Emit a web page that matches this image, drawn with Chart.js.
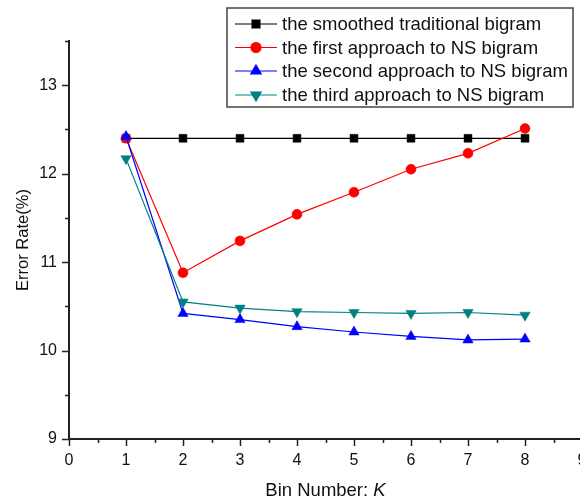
<!DOCTYPE html>
<html>
<head>
<meta charset="utf-8">
<script src="https://cdn.jsdelivr.net/npm/chart.js@4/dist/chart.umd.min.js"></script>
<style>
  html, body { margin: 0; padding: 0; background: #fff; overflow: hidden; }
  #wrap { width: 600px; height: 499px; }
</style>
</head>
<body>
<div id="wrap"><canvas id="c" width="600" height="499"></canvas></div>
<script>
// data
const binNumbers = [1, 2, 3, 4, 5, 6, 7, 8]
const smoothedTraditional = [12.4, 12.4, 12.4, 12.4, 12.4, 12.4, 12.4, 12.4]
const firstApproach = [12.4, 10.88, 11.24, 11.54, 11.79, 12.05, 12.23, 12.51]
const secondApproach = [12.42, 10.42, 10.35, 10.27, 10.21, 10.16, 10.12, 10.13]
const thirdApproach = [12.17, 10.55, 10.48, 10.44, 10.43, 10.42, 10.43, 10.40]
const seriesNames = [
  'the smoothed traditional bigram',
  'the first approach to NS bigram',
  'the second approach to NS bigram',
  'the third approach to NS bigram'
]
const xTicks = [0, 1, 2, 3, 4, 5, 6, 7, 8, 9]
const yTicks = [9, 10, 11, 12, 13]

const FONT = "'Liberation Sans', Arial, sans-serif"
const AXIS = '#222'

const pts = vals => binNumbers.map((k, i) => ({ x: k, y: vals[i] }))

const styles = [
  { color: '#000000', pointStyle: 'rect', radius: 5.6, rotation: 0, order: 4 },
  { color: '#ff0000', pointStyle: 'circle', radius: 5, rotation: 0, order: 3 },
  { color: '#0000ff', pointStyle: 'triangle', radius: 6, rotation: 0, order: 2 },
  { color: '#008080', pointStyle: 'triangle', radius: 6, rotation: 180, order: 1 }
]
const values = [smoothedTraditional, firstApproach, secondApproach, thirdApproach]

const datasets = values.map((v, i) => ({
  label: seriesNames[i],
  data: pts(v),
  borderColor: styles[i].color,
  backgroundColor: styles[i].color,
  borderWidth: 1.2,
  pointStyle: styles[i].pointStyle,
  pointRadius: styles[i].radius,
  pointRotation: styles[i].rotation,
  pointBorderWidth: 0.5,
  order: styles[i].order,
  tension: 0
}))

const decorations = {
  id: 'decorations',
  afterDraw (chart) {
    const { ctx, chartArea: a, scales: { x, y } } = chart
    ctx.save()
    // tick marks, major and minor
    ctx.strokeStyle = AXIS
    ctx.lineWidth = 1.5
    ctx.beginPath()
    for (let v = 0; v <= 9; v += 0.5) {
      const px = Math.round(x.getPixelForValue(v)) + 0.5
      const len = v % 1 === 0 ? 7 : 4
      ctx.moveTo(px, a.bottom)
      ctx.lineTo(px, a.bottom + len)
    }
    for (let v = 9; v <= 13.5; v += 0.5) {
      const py = Math.round(y.getPixelForValue(v)) + 0.5
      const len = v % 1 === 0 ? 7 : 4
      ctx.moveTo(a.left, py)
      ctx.lineTo(a.left - len, py)
    }
    ctx.stroke()

    // axis titles
    ctx.fillStyle = '#111'
    ctx.textBaseline = 'alphabetic'
    ctx.font = '18.5px ' + FONT
    const t1 = 'Bin Number: '
    const w1 = ctx.measureText(t1).width
    ctx.font = 'italic 18.5px ' + FONT
    const w2 = ctx.measureText('K').width
    const cx = (a.left + a.right) / 2
    const sx = cx - (w1 + w2) / 2
    ctx.font = '18.5px ' + FONT
    ctx.textAlign = 'left'
    ctx.fillText(t1, sx, 496)
    ctx.font = 'italic 18.5px ' + FONT
    ctx.fillText('K', sx + w1, 496)

    ctx.save()
    ctx.translate(28, (a.top + a.bottom) / 2)
    ctx.rotate(-Math.PI / 2)
    ctx.font = '16.5px ' + FONT
    ctx.textAlign = 'center'
    ctx.fillText('Error Rate(%)', 0, 0)
    ctx.restore()

    // legend box
    ctx.fillStyle = '#fff'
    ctx.fillRect(227, 8, 346, 99)
    ctx.strokeStyle = '#444'
    ctx.lineWidth = 1.5
    ctx.strokeRect(227, 8, 346, 99)
    const rows = [24, 47.5, 71, 95]
    ctx.font = '18.5px ' + FONT
    ctx.textAlign = 'left'
    ctx.textBaseline = 'middle'
    datasets.forEach((ds, i) => {
      const ry = rows[i]
      ctx.strokeStyle = ds.borderColor
      ctx.lineWidth = 1.2
      ctx.beginPath()
      ctx.moveTo(235, ry)
      ctx.lineTo(277, ry)
      ctx.stroke()
      ctx.fillStyle = ds.backgroundColor
      Chart.helpers.drawPoint(ctx, {
        pointStyle: ds.pointStyle,
        radius: ds.pointRadius,
        rotation: ds.pointRotation,
        borderWidth: 0.5
      }, 256, ry)
      ctx.fillStyle = '#111'
      ctx.fillText(ds.label, 282, ry + 1)
    })
    ctx.restore()
  }
}

new Chart(document.getElementById('c'), {
  type: 'line',
  data: { datasets },
  options: {
    responsive: false,
    animation: false,
    layout: { padding: { top: 41, right: 18, left: 0, bottom: 0 } },
    plugins: { legend: { display: false }, tooltip: { enabled: false } },
    scales: {
      x: {
        type: 'linear',
        min: 0,
        max: 9,
        afterBuildTicks: s => { s.ticks = xTicks.map(v => ({ value: v })) },
        ticks: { font: { family: FONT, size: 16 }, color: '#111', padding: 12, maxRotation: 0, autoSkip: false },
        grid: { display: false, drawTicks: false },
        border: { display: true, color: AXIS, width: 2 },
        afterFit: s => { s.height = 60; s.paddingLeft = 0; s.paddingRight = 0 }
      },
      y: {
        type: 'linear',
        min: 9,
        max: 13.5,
        afterBuildTicks: s => { s.ticks = yTicks.map(v => ({ value: v })) },
        ticks: { font: { family: FONT, size: 16 }, color: '#111', padding: 12 },
        grid: { display: false, drawTicks: false },
        border: { display: true, color: AXIS, width: 2 },
        afterFit: s => { s.width = 69; s.paddingTop = 0; s.paddingBottom = 0 }
      }
    }
  },
  plugins: [decorations]
})
</script>
</body>
</html>
